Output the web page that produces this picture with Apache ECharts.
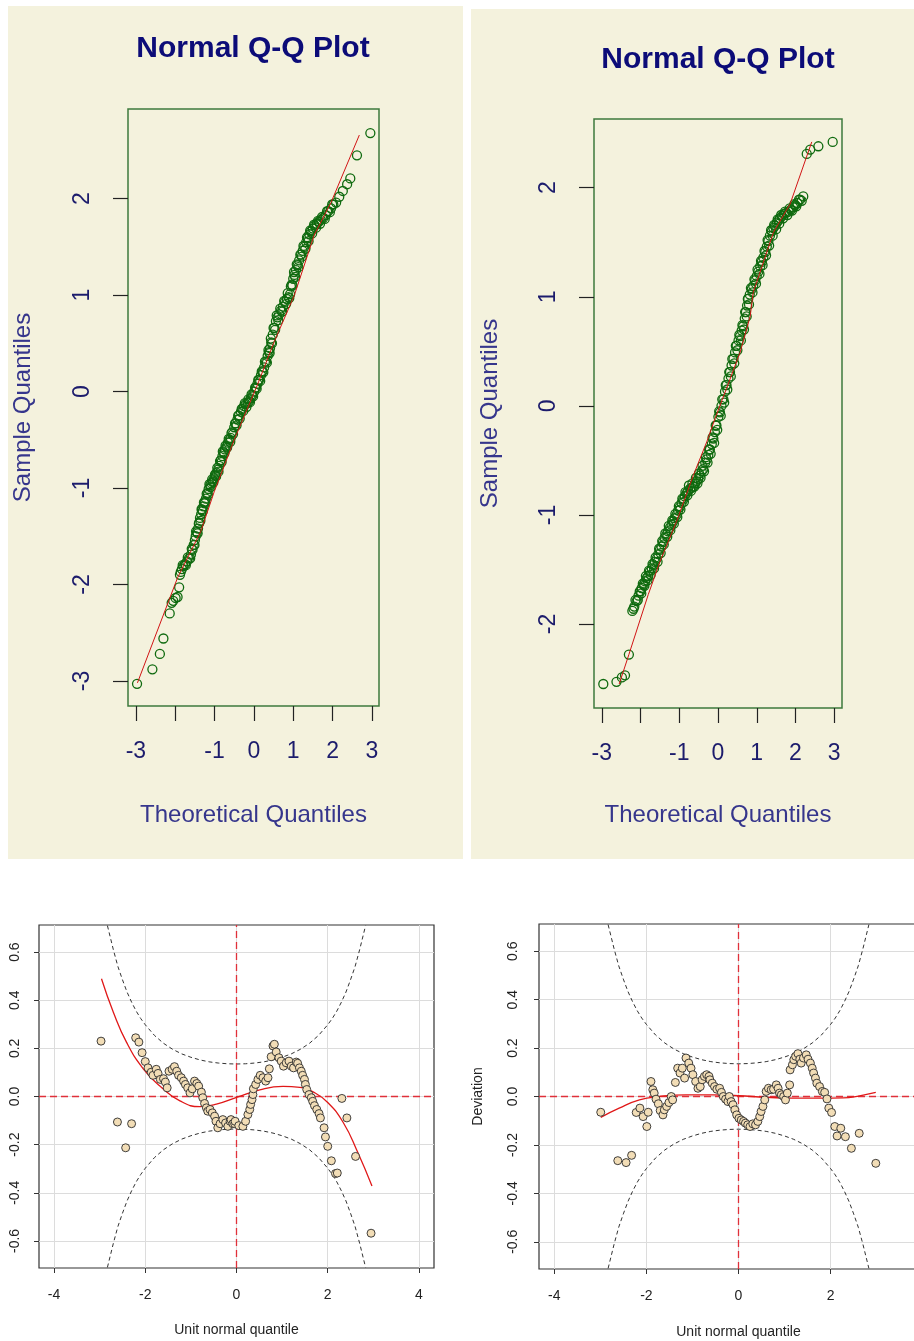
<!DOCTYPE html>
<html>
<head>
<meta charset="utf-8">
<title>Normal Q-Q and worm plots</title>
<script src="https://cdn.jsdelivr.net/npm/echarts@6/dist/echarts.min.js"></script>
<style>
  html, body { margin: 0; background: #fff; overflow: hidden; }
  .panel { position: absolute; background: #F4F2DD; }
  #chart { position: absolute; left: 0; top: 0; width: 960px; height: 1341px; }
</style>
</head>
<body>
<div class="panel" style="left:8px;top:6px;width:455px;height:853px"></div>
<div class="panel" style="left:471px;top:9px;width:443px;height:850px"></div>
<div id="chart"></div>
<script>
// ---- data ----
// top-left Q-Q (theoretical, sample)
const qqLeftPoints = [
  [-2.97,-3.03],[-2.58,-2.88],[-2.39,-2.72],[-2.30,-2.56],[-2.14,-2.30],[-2.09,-2.19],[-2.05,-2.17],
  [-1.99,-2.14],[-1.94,-2.13],[-1.90,-2.03],[-1.86,-1.87],[-1.83,-1.84],[-1.79,-1.81],[-1.75,-1.79],
  [-1.70,-1.76],[-1.65,-1.73],[-1.60,-1.69],[-1.56,-1.64],[-1.53,-1.59],[-1.50,-1.54],[-1.48,-1.50],
  [-1.45,-1.46],[-1.42,-1.42],[-1.40,-1.37],[-1.37,-1.31],[-1.34,-1.27],[-1.32,-1.23],[-1.28,-1.19],
  [-1.25,-1.16],[-1.22,-1.11],[-1.18,-1.05],[-1.15,-1.01],[-1.11,-0.97],[-1.08,-0.95],[-1.05,-0.93],
  [-1.01,-0.90],[-0.98,-0.87],[-0.95,-0.84],[-0.91,-0.81],[-0.88,-0.77],[-0.84,-0.71],[-0.80,-0.67],
  [-0.77,-0.63],[-0.74,-0.60],[-0.70,-0.57],[-0.66,-0.53],[-0.62,-0.50],[-0.59,-0.48],[-0.55,-0.42],
  [-0.50,-0.37],[-0.46,-0.33],[-0.42,-0.29],[-0.38,-0.25],[-0.33,-0.21],[-0.29,-0.18],[-0.25,-0.15],
  [-0.21,-0.13],[-0.16,-0.12],[-0.12,-0.10],[-0.08,-0.07],[-0.04,-0.04],[0.01,0.00],[0.05,0.04],
  [0.09,0.08],[0.13,0.12],[0.18,0.17],[0.22,0.21],[0.26,0.25],[0.31,0.31],[0.35,0.37],[0.38,0.41],
  [0.41,0.45],[0.44,0.51],[0.48,0.59],[0.52,0.66],[0.56,0.73],[0.60,0.77],[0.64,0.80],[0.69,0.84],
  [0.74,0.88],[0.79,0.93],[0.84,0.96],[0.88,0.98],[0.92,1.01],[0.96,1.11],[1.00,1.17],[1.03,1.21],
  [1.07,1.26],[1.11,1.31],[1.15,1.36],[1.20,1.42],[1.24,1.46],[1.28,1.50],[1.33,1.55],[1.37,1.59],
  [1.41,1.63],[1.45,1.66],[1.50,1.69],[1.55,1.72],[1.60,1.74],[1.65,1.76],[1.70,1.78],[1.76,1.80],
  [1.83,1.83],[1.89,1.87],[1.96,1.90],[2.02,1.94],[2.09,1.96],[2.17,2.02],[2.26,2.08],[2.37,2.15],
  [2.45,2.21],[2.62,2.45],[2.96,2.68]
];
// the dense middle of the band, second pass
const qqLeftDense = [
  [-1.88,-1.90],[-1.81,-1.80],[-1.73,-1.80],[-1.68,-1.72],[-1.62,-1.73],[-1.58,-1.63],[-1.51,-1.59],
  [-1.47,-1.45],[-1.43,-1.47],[-1.39,-1.36],[-1.36,-1.34],[-1.33,-1.22],[-1.30,-1.24],[-1.27,-1.15],
  [-1.24,-1.14],[-1.20,-1.06],[-1.17,-1.07],[-1.13,-0.96],[-1.10,-0.99],[-1.06,-0.91],[-1.03,-0.94],
  [-0.99,-0.86],[-0.96,-0.88],[-0.93,-0.79],[-0.90,-0.83],[-0.86,-0.72],[-0.82,-0.73],[-0.79,-0.62],
  [-0.75,-0.64],[-0.72,-0.56],[-0.68,-0.58],[-0.64,-0.49],[-0.60,-0.52],[-0.57,-0.43],[-0.53,-0.44],
  [-0.48,-0.33],[-0.44,-0.35],[-0.40,-0.25],[-0.36,-0.28],[-0.31,-0.18],[-0.27,-0.20],[-0.23,-0.12],
  [-0.19,-0.16],[-0.14,-0.08],[-0.10,-0.11],[-0.06,-0.03],[-0.02,-0.05],[0.03,0.04],[0.07,0.03],
  [0.11,0.12],[0.16,0.11],[0.20,0.21],[0.24,0.20],[0.28,0.31],[0.33,0.30],[0.37,0.43],[0.40,0.40],
  [0.43,0.55],[0.46,0.50],[0.50,0.66],[0.54,0.64],[0.58,0.79],[0.62,0.74],[0.67,0.86],[0.72,0.83],
  [0.77,0.94],[0.82,0.91],[0.86,1.02],[0.90,0.97],[0.94,1.09],[0.98,1.10],[1.02,1.24],[1.05,1.19],
  [1.09,1.32],[1.13,1.29],[1.18,1.42],[1.22,1.40],[1.26,1.51],[1.31,1.48],[1.35,1.60],[1.39,1.56],
  [1.43,1.67],[1.48,1.64],[1.53,1.73],[1.58,1.70],[1.63,1.77],[1.68,1.74],[1.73,1.81],[1.80,1.79],
  [1.86,1.87],[1.93,1.86],[1.99,1.94]
];
const qqLeftLine = [
  [-2.96,-3.02],[-1.94,-1.93],[-1.35,-1.45],[-1.01,-1.04],[-0.50,-0.50],[0.09,0.07],
  [0.52,0.52],[1.03,1.00],[1.53,1.62],[1.96,1.96],[2.68,2.66]
];

// top-right Q-Q
const qqRightPoints = [
  [-2.96,-2.55],[-2.62,-2.53],[-2.48,-2.49],[-2.40,-2.47],[-2.30,-2.28],[-2.21,-1.88],[-2.16,-1.84],
  [-2.10,-1.79],[-2.05,-1.74],[-2.00,-1.70],[-1.97,-1.67],[-1.92,-1.64],[-1.88,-1.61],[-1.84,-1.58],
  [-1.80,-1.56],[-1.76,-1.52],[-1.71,-1.49],[-1.67,-1.46],[-1.63,-1.43],[-1.58,-1.40],[-1.54,-1.36],
  [-1.50,-1.32],[-1.46,-1.29],[-1.42,-1.25],[-1.38,-1.21],[-1.33,-1.18],[-1.29,-1.15],[-1.25,-1.12],
  [-1.20,-1.09],[-1.16,-1.06],[-1.12,-1.03],[-1.07,-1.00],[-1.03,-0.96],[-0.99,-0.93],[-0.94,-0.89],
  [-0.90,-0.86],[-0.86,-0.83],[-0.81,-0.80],[-0.77,-0.78],[-0.72,-0.76],[-0.68,-0.75],[-0.64,-0.74],
  [-0.59,-0.71],[-0.55,-0.69],[-0.51,-0.67],[-0.47,-0.64],[-0.42,-0.60],[-0.38,-0.58],[-0.33,-0.52],
  [-0.29,-0.49],[-0.25,-0.45],[-0.21,-0.40],[-0.16,-0.35],[-0.12,-0.30],[-0.08,-0.24],[-0.04,-0.18],
  [0.01,-0.10],[0.05,-0.06],[0.09,0.00],[0.14,0.06],[0.18,0.13],[0.22,0.19],[0.27,0.25],[0.31,0.31],
  [0.35,0.37],[0.40,0.43],[0.44,0.49],[0.48,0.55],[0.53,0.60],[0.57,0.64],[0.61,0.69],[0.65,0.73],
  [0.69,0.80],[0.72,0.86],[0.75,0.92],[0.78,0.98],[0.82,1.02],[0.87,1.07],[0.91,1.10],[0.96,1.15],
  [1.00,1.19],[1.04,1.23],[1.09,1.28],[1.13,1.32],[1.17,1.36],[1.22,1.41],[1.26,1.46],[1.30,1.51],
  [1.34,1.56],[1.39,1.60],[1.43,1.63],[1.47,1.65],[1.52,1.68],[1.56,1.70],[1.60,1.72],[1.65,1.74],
  [1.70,1.76],[1.76,1.77],[1.82,1.78],[1.88,1.80],[1.94,1.82],[1.99,1.84],[2.05,1.86],[2.12,1.89],
  [2.20,1.92],[2.29,2.31],[2.38,2.35],[2.59,2.38],[2.96,2.42]
];
const qqRightDense = [
  [-2.18,-1.86],[-2.13,-1.78],[-2.07,-1.78],[-2.02,-1.70],[-1.98,-1.72],[-1.94,-1.63],[-1.90,-1.65],
  [-1.86,-1.56],[-1.82,-1.60],[-1.78,-1.51],[-1.74,-1.55],[-1.69,-1.45],[-1.65,-1.49],[-1.61,-1.39],
  [-1.56,-1.43],[-1.52,-1.31],[-1.48,-1.35],[-1.44,-1.24],[-1.40,-1.27],[-1.36,-1.17],[-1.31,-1.20],
  [-1.27,-1.10],[-1.23,-1.14],[-1.18,-1.05],[-1.14,-1.08],[-1.10,-0.99],[-1.05,-1.02],[-1.01,-0.92],
  [-0.97,-0.95],[-0.92,-0.85],[-0.88,-0.88],[-0.84,-0.79],[-0.79,-0.82],[-0.75,-0.73],[-0.70,-0.78],
  [-0.66,-0.71],[-0.61,-0.74],[-0.57,-0.66],[-0.53,-0.71],[-0.49,-0.62],[-0.45,-0.66],[-0.40,-0.55],
  [-0.36,-0.60],[-0.31,-0.47],[-0.27,-0.52],[-0.23,-0.40],[-0.19,-0.44],[-0.14,-0.29],[-0.10,-0.34],
  [-0.06,-0.18],[-0.02,-0.22],[0.03,-0.05],[0.07,-0.09],[0.11,0.06],[0.16,0.03],[0.20,0.19],[0.24,0.15],
  [0.29,0.31],[0.33,0.27],[0.37,0.43],[0.42,0.39],[0.46,0.55],[0.50,0.51],[0.55,0.65],[0.59,0.60],
  [0.63,0.74],[0.67,0.70],[0.70,0.86],[0.74,0.82],[0.77,0.98],[0.80,0.93],[0.85,1.08],[0.89,1.04],
  [0.94,1.16],[0.98,1.12],[1.02,1.25],[1.07,1.21],[1.11,1.33],[1.15,1.29],[1.20,1.42],[1.24,1.38],
  [1.28,1.52],[1.32,1.47],[1.37,1.61],[1.41,1.56],[1.45,1.66],[1.50,1.62],[1.54,1.71],[1.58,1.67],
  [1.63,1.75],[1.68,1.72],[1.73,1.78],[1.79,1.75],[1.85,1.81],[1.91,1.79],[1.97,1.85],[2.02,1.83],
  [2.09,1.89],[2.16,1.88]
];
const qqRightLine = [
  [-2.55,-2.55],[-2.30,-2.28],[-1.80,-1.73],[-1.50,-1.43],[-1.07,-1.06],[-0.64,-0.64],[-0.29,-0.33],
  [-0.08,-0.12],[0.22,0.16],[0.57,0.49],[0.83,0.82],[0.91,1.04],[1.43,1.59],[1.86,1.85],[2.42,2.42]
];

// worm plot bands (dashed), shared by both worm plots
const bandX = [-2.83,-2.7,-2.6,-2.5,-2.4,-2.3,-2.2,-2.1,-2.0,-1.8,-1.6,-1.4,-1.2,-1.0,-0.8,-0.6,-0.4,-0.2,0,
               0.2,0.4,0.6,0.8,1.0,1.2,1.4,1.6,1.8,2.0,2.1,2.2,2.3,2.4,2.5,2.6,2.7,2.83];
const bandUpper = [0.71,0.61,0.54,0.485,0.434,0.392,0.355,0.324,0.298,0.254,0.221,0.196,0.177,0.163,0.152,0.144,0.139,0.136,0.135,
                   0.136,0.139,0.144,0.152,0.163,0.177,0.196,0.221,0.254,0.298,0.324,0.355,0.392,0.434,0.485,0.54,0.61,0.71];
const bandLower = [-0.71,-0.61,-0.54,-0.485,-0.434,-0.392,-0.355,-0.324,-0.298,-0.254,-0.221,-0.196,-0.177,-0.163,-0.152,-0.144,-0.139,-0.136,-0.135,
                   -0.136,-0.139,-0.144,-0.152,-0.163,-0.177,-0.196,-0.221,-0.254,-0.298,-0.324,-0.355,-0.392,-0.434,-0.485,-0.54,-0.61,-0.71];

// bottom-left worm plot (unit normal quantile, deviation)
const wormLeftPoints = [
  [-2.97,0.23],[-2.61,-0.106],[-2.43,-0.213],[-2.30,-0.113],[-2.21,0.244],[-2.14,0.226],[-2.07,0.182],
  [-2.00,0.145],[-1.94,0.119],[-1.87,0.101],[-1.83,0.088],[-1.76,0.113],[-1.72,0.096],[-1.67,0.071],
  [-1.60,0.074],[-1.56,0.06],[-1.52,0.036],[-1.48,0.105],[-1.41,0.113],[-1.36,0.124],[-1.31,0.105],
  [-1.27,0.088],[-1.21,0.078],[-1.16,0.064],[-1.12,0.05],[-1.07,0.036],[-1.02,0.015],[-0.97,0.032],
  [-0.92,0.064],[-0.87,0.054],[-0.83,0.043],[-0.77,0.018],[-0.74,-0.005],[-0.70,-0.029],[-0.66,-0.047],
  [-0.63,-0.061],[-0.58,-0.054],[-0.53,-0.068],[-0.48,-0.082],[-0.45,-0.103],[-0.41,-0.13],[-0.36,-0.113],
  [-0.30,-0.096],[-0.24,-0.11],[-0.19,-0.124],[-0.14,-0.103],[-0.12,-0.096],[-0.08,-0.113],[-0.04,-0.113],
  [-0.03,-0.103],[0.05,-0.121],[0.14,-0.124],[0.20,-0.103],[0.25,-0.075],[0.29,-0.054],[0.31,-0.033],
  [0.34,-0.013],[0.36,0.008],[0.37,0.032],[0.42,0.05],[0.47,0.071],[0.52,0.088],[0.58,0.078],[0.64,0.064],
  [0.69,0.078],[0.72,0.115],[0.76,0.165],[0.80,0.21],[0.83,0.217],[0.87,0.185],[0.93,0.161],[0.98,0.147],
  [1.03,0.126],[1.09,0.14],[1.15,0.147],[1.20,0.126],[1.25,0.119],[1.31,0.143],[1.34,0.138],[1.38,0.119],
  [1.42,0.105],[1.45,0.088],[1.49,0.071],[1.51,0.05],[1.54,0.029],[1.59,0.008],[1.64,-0.005],[1.67,-0.02],
  [1.71,-0.038],[1.76,-0.054],[1.81,-0.071],[1.84,-0.089],[1.92,-0.13],[1.95,-0.168],[2.00,-0.207],
  [2.08,-0.267],[2.17,-0.32],[2.21,-0.318],[2.31,-0.008],[2.42,-0.089],[2.61,-0.249],[2.95,-0.568]
];
const wormLeftCurve = [
  [-2.96,0.489],[-2.70,0.35],[-2.41,0.225],[-2.04,0.114],[-1.68,0.044],[-1.24,-0.018],[-0.80,-0.042],
  [-0.44,-0.032],[0,-0.004],[0.51,0.028],[1.02,0.042],[1.39,0.038],[1.68,0.019],[2.0,-0.025],
  [2.34,-0.108],[2.66,-0.233],[2.97,-0.372]
];

// bottom-right worm plot
const wormRightPoints = [
  [-2.99,-0.065],[-2.62,-0.265],[-2.44,-0.273],[-2.32,-0.243],[-2.22,-0.066],[-2.14,-0.048],[-2.07,-0.083],
  [-1.99,-0.124],[-1.96,-0.065],[-1.90,0.062],[-1.86,0.028],[-1.83,0.014],[-1.79,-0.011],[-1.74,-0.03],
  [-1.70,-0.058],[-1.64,-0.076],[-1.61,-0.055],[-1.56,-0.041],[-1.51,-0.025],[-1.46,0.0],[-1.43,-0.014],
  [-1.37,0.058],[-1.32,0.117],[-1.27,0.097],[-1.22,0.117],[-1.17,0.076],[-1.14,0.159],[-1.08,0.138],
  [-1.03,0.117],[-0.99,0.09],[-0.93,0.062],[-0.88,0.034],[-0.83,0.041],[-0.79,0.069],[-0.74,0.083],
  [-0.69,0.09],[-0.64,0.083],[-0.62,0.069],[-0.57,0.055],[-0.52,0.041],[-0.47,0.03],[-0.41,0.034],
  [-0.37,0.017],[-0.33,0.0],[-0.28,-0.011],[-0.23,-0.021],[-0.20,0.0],[-0.16,-0.021],[-0.12,-0.034],
  [-0.08,-0.055],[-0.04,-0.076],[0.01,-0.09],[0.06,-0.097],[0.11,-0.103],[0.15,-0.11],[0.20,-0.117],
  [0.25,-0.124],[0.31,-0.113],[0.37,-0.117],[0.42,-0.103],[0.46,-0.083],[0.49,-0.062],[0.53,-0.041],
  [0.57,-0.014],[0.60,0.021],[0.65,0.034],[0.71,0.028],[0.76,0.03],[0.82,0.048],[0.86,0.034],[0.89,0.014],
  [0.93,0.007],[0.98,0.0],[1.02,-0.014],[1.06,0.014],[1.11,0.048],[1.12,0.11],[1.17,0.131],[1.20,0.152],
  [1.24,0.166],[1.29,0.177],[1.33,0.154],[1.36,0.138],[1.41,0.159],[1.47,0.172],[1.51,0.154],[1.56,0.138],
  [1.60,0.117],[1.63,0.097],[1.67,0.076],[1.70,0.055],[1.76,0.041],[1.82,0.021],[1.87,0.017],[1.92,-0.01],
  [1.96,-0.048],[2.02,-0.066],[2.09,-0.124],[2.14,-0.163],[2.22,-0.131],[2.32,-0.166],[2.45,-0.214],
  [2.62,-0.152],[2.98,-0.276]
];
const wormRightCurve = [
  [-2.99,-0.086],[-2.59,-0.048],[-2.15,-0.014],[-1.72,0.0],[-1.14,0.007],[-0.56,0.007],[0,0.003],
  [0.6,-0.003],[1.18,-0.007],[1.76,-0.007],[2.27,-0.006],[2.63,0.003],[2.98,0.017]
];

// tick values
const qqXTicks = [-3, -2, -1, 0, 1, 2, 3];
const qqXLabels = [-3, -1, 0, 1, 2, 3];
const qqLeftYTicks = [-3, -2, -1, 0, 1, 2];
const qqRightYTicks = [-2, -1, 0, 1, 2];
const wormXTicks = [-4, -2, 0, 2, 4];
const wormYTicks = [-0.6, -0.4, -0.2, 0, 0.2, 0.4, 0.6];

const font = '"Liberation Sans", Arial, sans-serif';

function qqAxis(kind, gridIndex, min, max, ticks, labels, name, nameGap) {
  return {
    type: 'value', gridIndex: gridIndex, min: min, max: max,
    axisLine: { show: false, onZero: false },
    axisTick: { show: true, length: 15, customValues: ticks, lineStyle: { color: '#222', width: 1.2 } },
    axisLabel: {
      customValues: labels, fontSize: 23, color: '#1c1c6c', fontFamily: font,
      margin: 34, rotate: kind === 'y' ? 90 : 0
    },
    splitLine: { show: false },
    name: name, nameLocation: 'middle', nameGap: nameGap,
    nameTextStyle: { fontSize: 24, color: '#36368c', fontFamily: font }
  };
}

function wormAxis(kind, gridIndex, min, max, ticks, name, nameGap, margin) {
  return {
    type: 'value', gridIndex: gridIndex, min: min, max: max,
    axisLine: { show: false, onZero: false },
    axisTick: { show: true, length: 5, customValues: ticks, lineStyle: { color: '#333' } },
    axisLabel: {
      customValues: ticks, fontSize: 14, color: '#222', fontFamily: font, margin: margin,
      rotate: kind === 'y' ? 90 : 0,
      formatter: kind === 'y' ? (v => Number(v).toFixed(1)) : (v => String(v))
    },
    splitLine: { show: true, lineStyle: { color: '#dcdcdc', width: 1 } },
    name: name, nameLocation: 'middle', nameGap: nameGap,
    nameTextStyle: { fontSize: 14, color: '#222', fontFamily: font }
  };
}

function zip(xs, ys) { return xs.map((x, i) => [x, ys[i]]); }

function wormSeries(idx, points, curve) {
  return [
    {
      type: 'line', xAxisIndex: idx, yAxisIndex: idx, symbol: 'none', silent: true,
      data: zip(bandX, bandUpper), z: 3,
      lineStyle: { color: '#333', width: 1, type: [4, 3] }
    },
    {
      type: 'line', xAxisIndex: idx, yAxisIndex: idx, symbol: 'none', silent: true,
      data: zip(bandX, bandLower), z: 3,
      lineStyle: { color: '#333', width: 1, type: [4, 3] }
    },
    {
      // red dashed reference lines at 0
      type: 'scatter', xAxisIndex: idx, yAxisIndex: idx, data: [], z: 4,
      markLine: {
        silent: true, symbol: 'none', label: { show: false }, animation: false,
        lineStyle: { color: '#e0303a', width: 1.3, type: [7, 4], opacity: 1 },
        data: [{ xAxis: 0 }, { yAxis: 0 }]
      }
    },
    {
      type: 'line', xAxisIndex: idx, yAxisIndex: idx, data: curve, smooth: true, symbol: 'none',
      lineStyle: { color: '#e01818', width: 1.3 }, z: 5
    },
    {
      type: 'scatter', xAxisIndex: idx, yAxisIndex: idx, data: points, symbolSize: 8,
      itemStyle: { color: '#F2DDB6', borderColor: '#2b2b2b', borderWidth: 0.9, opacity: 1 }, z: 6
    }
  ];
}

function qqSeries(idx, points, line) {
  return [
    {
      type: 'scatter', xAxisIndex: idx, yAxisIndex: idx, data: points, symbolSize: 9,
      itemStyle: { color: 'rgba(0,0,0,0)', borderColor: '#0f6a0f', borderWidth: 1.3, opacity: 1 }, z: 3
    },
    {
      type: 'line', xAxisIndex: idx, yAxisIndex: idx, data: line, symbol: 'none',
      lineStyle: { color: '#d01414', width: 1 }, z: 4
    }
  ];
}

const chart = echarts.init(document.getElementById('chart'), null, { renderer: 'canvas' });

chart.setOption({
  animation: false,
  backgroundColor: 'transparent',
  textStyle: { fontFamily: font },
  graphic: [
    { type: 'text', x: 253, y: 49, style: { text: 'Normal Q-Q Plot', fill: '#0c0c78', font: 'bold 30px "Liberation Sans", Arial', align: 'center', verticalAlign: 'middle' } },
    { type: 'text', x: 718, y: 60, style: { text: 'Normal Q-Q Plot', fill: '#0c0c78', font: 'bold 30px "Liberation Sans", Arial', align: 'center', verticalAlign: 'middle' } }
  ],
  grid: [
    { left: 128, top: 109, width: 251, height: 597, show: true, borderColor: '#3c7a3c', borderWidth: 1.5, backgroundColor: 'transparent' },
    { left: 594, top: 119, width: 248, height: 589, show: true, borderColor: '#3c7a3c', borderWidth: 1.5, backgroundColor: 'transparent' },
    { left: 39, top: 925, width: 395, height: 343, show: true, borderColor: '#333', borderWidth: 1.2, backgroundColor: 'transparent' },
    { left: 539, top: 924, width: 399, height: 345, show: true, borderColor: '#333', borderWidth: 1.2, backgroundColor: 'transparent' }
  ],
  xAxis: [
    qqAxis('x', 0, -3.2, 3.18, qqXTicks, qqXLabels, 'Theoretical Quantiles', 97),
    qqAxis('x', 1, -3.2, 3.2, qqXTicks, qqXLabels, 'Theoretical Quantiles', 95),
    wormAxis('x', 2, -4.33, 4.33, wormXTicks, 'Unit normal quantile', 55, 20),
    wormAxis('x', 3, -4.33, 4.33, wormXTicks, 'Unit normal quantile', 56, 20)
  ],
  yAxis: [
    qqAxis('y', 0, -3.26, 2.93, qqLeftYTicks, qqLeftYTicks, 'Sample Quantiles', 93),
    qqAxis('y', 1, -2.77, 2.63, qqRightYTicks, qqRightYTicks, 'Sample Quantiles', 92),
    wormAxis('y', 2, -0.7125, 0.7125, wormYTicks, '', 40, 17),
    wormAxis('y', 3, -0.7125, 0.7125, wormYTicks, 'Deviation', 54, 19)
  ],
  series: [].concat(
    qqSeries(0, qqLeftPoints.concat(qqLeftDense), qqLeftLine),
    qqSeries(1, qqRightPoints.concat(qqRightDense), qqRightLine),
    wormSeries(2, wormLeftPoints, wormLeftCurve),
    wormSeries(3, wormRightPoints, wormRightCurve)
  )
});
</script>
</body>
</html>
